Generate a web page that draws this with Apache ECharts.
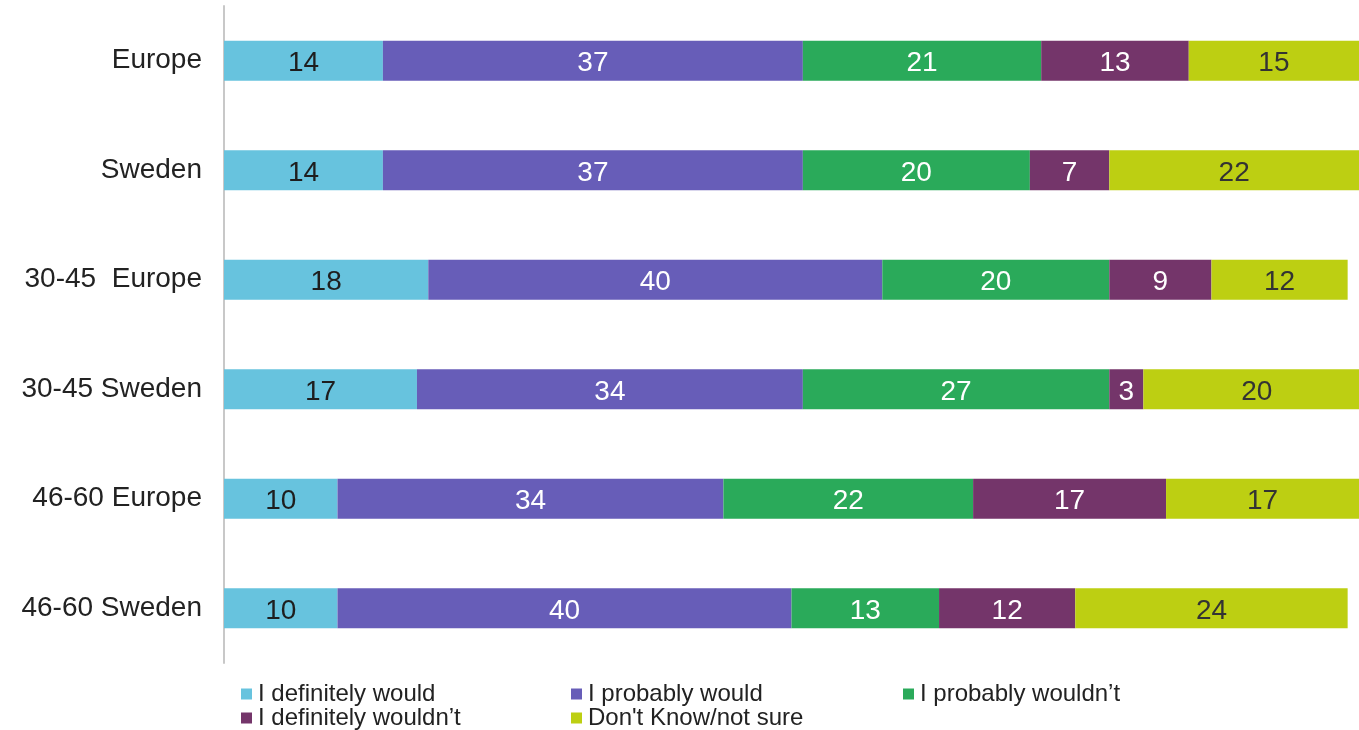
<!DOCTYPE html>
<html>
<head>
<meta charset="utf-8">
<title>Purchase intention by region and age</title>
<script src="https://cdn.jsdelivr.net/npm/echarts@6/dist/echarts.min.js"></script>
<style>
  html, body { margin: 0; padding: 0; background: #fff; }
  #chart { width: 1359px; height: 730px; }
</style>
</head>
<body>
<div id="chart"></div>
<script>
// Row labels, top to bottom
const categories = ["Europe", "Sweden", "30-45  Europe", "30-45 Sweden", "46-60 Europe", "46-60 Sweden"];

// Answer shares (%) per row
const definitelyWould   = [14, 14, 18, 17, 10, 10];
const probablyWould     = [37, 37, 40, 34, 34, 40];
const probablyWouldnt   = [21, 20, 20, 27, 22, 13];
const definitelyWouldnt = [13, 7, 9, 3, 17, 12];
const dontKnow          = [15, 22, 12, 20, 17, 24];

const seriesNames = [
  "I definitely would",
  "I probably would",
  "I probably wouldn\u2019t",
  "I definitely wouldn\u2019t",
  "Don't Know/not sure"
];
const seriesValues = [definitelyWould, probablyWould, probablyWouldnt, definitelyWouldnt, dontKnow];
const colors = ["#67C3DE", "#675DB8", "#2AAA5A", "#74356A", "#BDCF12"];
const labelColors = ["#1e1e1e", "#ffffff", "#ffffff", "#ffffff", "#333333"];

const FONT = "'Liberation Sans', Arial, sans-serif";

const chart = echarts.init(document.getElementById('chart'), null, { renderer: 'canvas' });

const series = seriesNames.map((name, i) => ({
  name: name,
  type: 'bar',
  stack: 'total',
  barWidth: 40,
  clip: false,
  data: seriesValues[i],
  itemStyle: { color: colors[i] },
  label: {
    show: true,
    position: 'inside',
    offset: [0, 3],
    color: labelColors[i],
    fontFamily: FONT,
    fontSize: 28
  },
  emphasis: { disabled: true }
}));

function legendColumn(left, names) {
  return {
    orient: 'vertical',
    left: left,
    top: 682,
    icon: 'rect',
    itemWidth: 11,
    itemHeight: 11,
    itemGap: 0,
    padding: 0,
    selectedMode: false,
    data: names,
    textStyle: {
      color: '#222',
      fontFamily: FONT,
      fontSize: 24,
      lineHeight: 23,
      padding: [0, 0, 0, 1]
    }
  };
}

chart.setOption({
  animation: false,
  backgroundColor: '#ffffff',
  color: colors,
  grid: { left: 224, right: 0, top: 6, bottom: 67, containLabel: false },
  legend: [
    legendColumn(241, [seriesNames[0], seriesNames[3]]),
    legendColumn(571, [seriesNames[1], seriesNames[4]]),
    legendColumn(903, [seriesNames[2]])
  ],
  xAxis: {
    type: 'value',
    min: 0,
    max: 100,
    show: false
  },
  yAxis: {
    type: 'category',
    data: categories,
    inverse: true,
    offset: 1,
    axisLine: { show: true, lineStyle: { color: '#c8c8c8', width: 2 } },
    axisTick: { show: false },
    splitLine: { show: false },
    axisLabel: {
      color: '#222',
      fontFamily: FONT,
      fontSize: 28,
      margin: 21
    }
  },
  series: series
});
</script>
</body>
</html>
